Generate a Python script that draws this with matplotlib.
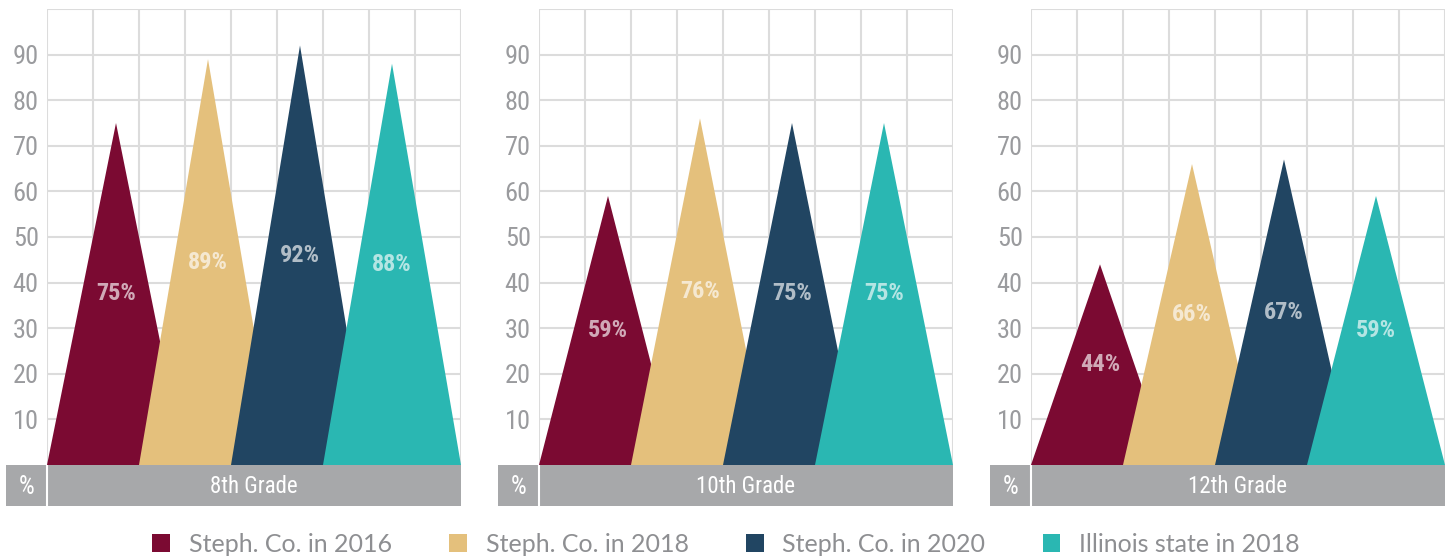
import matplotlib
matplotlib.use('Agg')
import matplotlib.pyplot as plt
from matplotlib.patches import Polygon, Rectangle
from matplotlib import font_manager

# dados
grades = ['8th Grade', '10th Grade', '12th Grade']
series = ['Steph. Co. in 2016', 'Steph. Co. in 2018', 'Steph. Co. in 2020', 'Illinois state in 2018']
values_8th = [75, 89, 92, 88]
values_10th = [59, 76, 75, 75]
values_12th = [44, 66, 67, 59]
all_values = [values_8th, values_10th, values_12th]
yticks = [10, 20, 30, 40, 50, 60, 70, 80, 90]

colors = ['#7b0a32', '#e4c07c', '#214562', '#2ab7b2']
grid_color = '#dcdcdc'
tick_color = '#9a9b9e'
bar_color = '#a7a8aa'

# fonte estreita, se existir alguma instalada
installed = {f.name for f in font_manager.fontManager.ttflist}
narrow = [n for n in ['Roboto Condensed', 'Open Sans Condensed', 'DejaVu Sans Condensed',
                      'Liberation Sans Narrow', 'Roboto'] if n in installed] + ['DejaVu Sans']

W, H = 1452, 559
fig = plt.figure(figsize=(W / 100, H / 100), dpi=100)

def fig_box(x0, y0, x1, y1):
    # converte pixels (origem no topo) para coordenadas da figura
    return [x0 / W, 1 - y1 / H, (x1 - x0) / W, (y1 - y0) / H]

for i, grade in enumerate(grades):
    off = 492 * i
    ax = fig.add_axes(fig_box(47 + off, 9, 461 + off, 465))
    ax.set_xlim(0, 9)
    ax.set_ylim(0, 100)
    ax.set_xticks(range(10))
    ax.set_yticks(range(0, 101, 10))
    ax.set_xticklabels([])
    ax.set_yticklabels(['' if t not in yticks else str(t) for t in range(0, 101, 10)],
                       family=narrow, fontsize=19, color=tick_color, stretch='condensed')
    ax.tick_params(length=0, pad=6)
    ax.grid(True, color=grid_color, linewidth=1.5, zorder=0)
    ax.set_axisbelow(True)
    for s in ax.spines.values():
        s.set_visible(False)
    ax.patch.set_alpha(0)

    for j, v in enumerate(all_values[i]):
        c = 1.5 + 2 * j
        tri = Polygon([(c - 1.5, 0), (c, v), (c + 1.5, 0)], closed=True,
                      facecolor=colors[j], edgecolor='none', zorder=2 + j)
        ax.add_patch(tri)
        ax.text(c, v / 2, f'{v}%', ha='center', va='center', color='white', alpha=0.65,
                fontsize=17.5, fontweight='bold', family=narrow, stretch='condensed', zorder=10)

    # barra cinza com a série
    bx = fig.add_axes(fig_box(6 + off, 465, 461 + off, 506))
    bx.set_xlim(6 + off, 461 + off)
    bx.set_ylim(0, 1)
    bx.axis('off')
    bx.add_patch(Rectangle((6 + off, 0), 455, 1, facecolor=bar_color, edgecolor='none'))
    bx.axvline(47 + off, color='white', linewidth=1.5)
    bx.text(26.5 + off, 0.47, '%', ha='center', va='center', color='white', fontsize=18,
            family=narrow, stretch='condensed')
    bx.text(254 + off, 0.47, grade, ha='center', va='center', color='white', fontsize=16.5,
            family=narrow, stretch='condensed')

handles = [Rectangle((0, 0), 1, 1, facecolor=c, edgecolor='none') for c in colors]
leg = fig.legend(handles, series, ncol=4, loc='center', bbox_to_anchor=(0.5, 1 - 544 / H),
                 frameon=False, handlelength=0.7, handleheight=0.7, handletextpad=0.75,
                 columnspacing=2.3, prop={'family': ['Lato', 'DejaVu Sans'], 'size': 18})
for t in leg.get_texts():
    t.set_color('#8e8f92')

fig.savefig('out.png', dpi=100)
